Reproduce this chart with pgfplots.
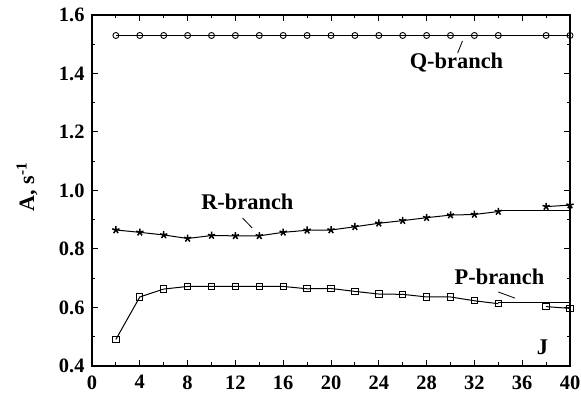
\documentclass[border=0pt]{standalone}
\usepackage{pgfplots}
\pgfplotsset{compat=1.18}
\usepackage{fontspec}
\setmainfont{Liberation Serif}
\begin{document}
\begin{tikzpicture}
\begin{axis}[
  scale only axis, width=478bp, height=351bp,
  xmin=0, xmax=40, ymin=0.4, ymax=1.6,
  xtick distance=4, ytick distance=0.2,
  minor x tick num=1, minor y tick num=1,
  tick align=inside,
  major tick length=6bp, minor tick length=3.5bp,
  every tick/.style={black, line width=1bp},
  axis line style={line width=1.2bp},
  /pgf/number format/assume math mode=true,
  ticklabel style={font=\bfseries\fontsize{20.5}{20.5}\selectfont},
  yticklabel style={/pgf/number format/fixed, /pgf/number format/fixed zerofill, /pgf/number format/precision=1, xshift=-4bp},
  xticklabel style={yshift=-6bp},
  ylabel={A, s\textsuperscript{-1}},
  ylabel style={font=\bfseries\fontsize{22}{22}\selectfont, at={(axis description cs:-0.136,0.51)}, anchor=center},
  clip=false,
]
% Q-branch
\addplot[black, line width=1bp, mark=o, mark size=3bp, mark options={fill=white, line width=0.9bp}] coordinates {
(2,1.53)(4,1.53)(6,1.53)(8,1.53)(10,1.53)(12,1.53)(14,1.53)(16,1.53)(18,1.53)(20,1.53)(22,1.53)(24,1.53)(26,1.53)(28,1.53)(30,1.53)(32,1.53)(34,1.53)(38,1.53)(40,1.53)};
% R-branch
\addplot[black, line width=1bp, mark=star, mark size=3.8bp, mark options={line width=1.5bp}] coordinates {
(2,0.865)(4,0.857)(6,0.848)(8,0.836)(10,0.846)(12,0.845)(14,0.845)(16,0.857)(18,0.864)(20,0.865)(22,0.876)(24,0.888)(26,0.897)(28,0.907)(30,0.916)(32,0.918)(34,0.928)};
\addplot[black, line width=1bp] coordinates {(34,0.93)(40,0.93)};
\addplot[black, line width=1bp, mark=star, mark size=3.8bp, mark options={line width=1.5bp}] coordinates {(38,0.945)(40,0.95)};
% P-branch
\addplot[black, line width=1bp, mark=square, mark size=3.2bp, mark options={fill=white, line width=1bp}] coordinates {
(2,0.491)(4,0.636)(6,0.663)(8,0.672)(10,0.672)(12,0.672)(14,0.672)(16,0.672)(18,0.664)(20,0.665)(22,0.655)(24,0.646)(26,0.645)(28,0.636)(30,0.636)(32,0.623)(34,0.613)};
\addplot[black, line width=1bp] coordinates {(34,0.617)(40,0.617)};
\addplot[black, line width=1bp, mark=square, mark size=3.2bp, mark options={fill=white, line width=1bp}] coordinates {(38,0.603)(40,0.597)};
% labels
\node[font=\bfseries\fontsize{22.5}{22.5}\selectfont] at (axis cs:30.5,1.436) {Q-branch};
\draw[line width=0.8bp] (axis cs:30.6,1.47) -- (axis cs:31.0,1.511);
\node[font=\bfseries\fontsize{22.5}{22.5}\selectfont] at (axis cs:13.0,0.961) {R-branch};
\draw[line width=0.8bp] (axis cs:12.6,0.906) -- (axis cs:13.4,0.872);
\node[font=\bfseries\fontsize{22.5}{22.5}\selectfont] at (axis cs:34.1,0.704) {P-branch};
\draw[line width=0.8bp] (axis cs:34.0,0.653) -- (axis cs:35.4,0.632);
\node[font=\bfseries\fontsize{22.5}{22.5}\selectfont] at (axis cs:37.7,0.465) {J};
\end{axis}
\pgfresetboundingbox
\path (current axis.south west) ++(-92bp,-38bp) rectangle ++(581bp,404bp);
\end{tikzpicture}
\end{document}
